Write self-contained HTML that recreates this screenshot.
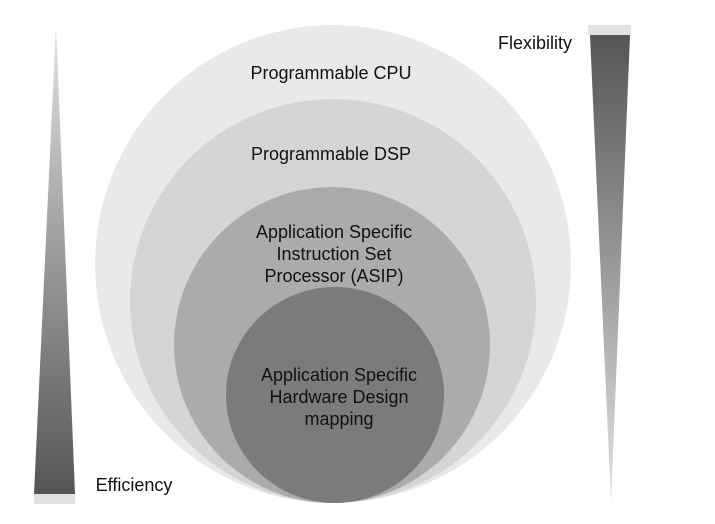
<!DOCTYPE html>
<html><head><meta charset="utf-8"><style>
html,body{margin:0;padding:0;background:#fff;}
svg{display:block;}
text{font-family:"Liberation Sans",Arial,sans-serif;font-size:18px;fill:#111;text-anchor:middle;}
</style></head><body>
<svg width="715" height="524" viewBox="0 0 715 524">
<defs>
<linearGradient id="gl" x1="0" y1="0" x2="0" y2="1">
<stop offset="0" stop-color="#e4e4e4"/><stop offset="0.5" stop-color="#9a9a9a"/><stop offset="1" stop-color="#555"/>
</linearGradient>
<linearGradient id="gr" x1="0" y1="0" x2="0" y2="1">
<stop offset="0" stop-color="#555"/><stop offset="0.5" stop-color="#9a9a9a"/><stop offset="1" stop-color="#e4e4e4"/>
</linearGradient>
</defs>
<polygon points="56,25 34,494 75,494" fill="url(#gl)"/>
<rect x="34" y="494" width="41" height="10" fill="#e2e2e2"/>
<rect x="588" y="25" width="43" height="10" fill="#e2e2e2"/>
<polygon points="590,35 630,35 611,503" fill="url(#gr)"/>
<ellipse cx="333" cy="264" rx="238" ry="239" fill="#e9e9e9"/>
<ellipse cx="333" cy="301" rx="203" ry="202" fill="#d5d5d5"/>
<ellipse cx="332" cy="345" rx="158" ry="158" fill="#ababab"/>
<ellipse cx="335" cy="395" rx="109" ry="108" fill="#7b7b7b"/>
<text x="331" y="79">Programmable CPU</text>
<text x="331" y="160">Programmable DSP</text>
<text x="334" y="238">Application Specific</text>
<text x="334" y="260">Instruction Set</text>
<text x="334" y="282">Processor (ASIP)</text>
<text x="339" y="381">Application Specific</text>
<text x="339" y="403">Hardware Design</text>
<text x="339" y="425">mapping</text>
<text x="535" y="49">Flexibility</text>
<text x="134" y="491">Efficiency</text>
</svg>
</body></html>
